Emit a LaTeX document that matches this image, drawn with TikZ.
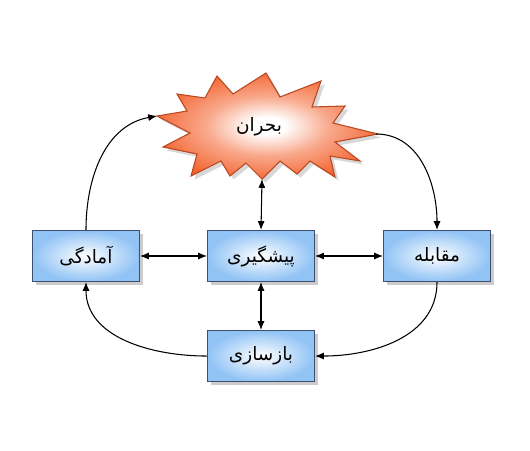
\documentclass[tikz,border=0pt]{standalone}
\usepackage{fontspec}
\newfontfamily\farsifont[Script=Arabic]{DejaVu Sans}
\TeXXeTstate=1
\usetikzlibrary{arrows.meta,shadows,positioning}

\definecolor{boxblue}{RGB}{145,195,245}
\definecolor{boxline}{RGB}{60,80,110}
\definecolor{burstorange}{RGB}{243,98,45}
\definecolor{burstline}{RGB}{185,70,30}

\pgfdeclareradialshading{burstshade}{\pgfpoint{0bp}{0bp}}{%
  color(0bp)=(white); color(4bp)=(white); color(14bp)=(white!45!burstorange);
  color(27bp)=(burstorange); color(50bp)=(burstorange)}

\tikzset{
  phase/.style={draw=boxline, line width=0.6pt, inner color=white, outer color=boxblue,
    minimum width=2.14cm, minimum height=1.02cm,
    drop shadow={shadow xshift=2pt, shadow yshift=-2pt, fill=black!40},
    font=\farsifont\fontsize{10.5}{12}\selectfont},
  link/.style={-{Latex[length=5pt,width=4pt]}, line width=0.6pt},
  dlink/.style={{Latex[length=5pt,width=4pt]}-{Latex[length=5pt,width=4pt]}, line width=0.6pt}
}

\begin{document}
\begin{tikzpicture}[x=0.02cm, y=-0.02cm]
    \useasboundingbox (0,0) rectangle (530,450);

    %---- the crisis burst
    \path[draw=burstline, line width=0.6pt, shading=burstshade,
          drop shadow={shadow xshift=2pt, shadow yshift=-2pt, fill=black!30}]
      (157,116) -- (187,111) -- (177,94) -- (205,98) -- (217,76) -- (233,94)
      -- (266,73) -- (280,97) -- (321,81) -- (312,107) -- (345,106) -- (333,123)
      -- (378,134) -- (335,142) -- (360,161) -- (330,156) -- (335,177) -- (310,161)
      -- (297,174) -- (280,161) -- (262,179) -- (246,163) -- (230,176) -- (221,161)
      -- (191,176) -- (197,154) -- (163,147) -- (190,133) -- cycle;
    \coordinate (burstL) at (157,116);
    \coordinate (burstR) at (376,134);
    \coordinate (burstB) at (262,179);
    \node[font=\farsifont\fontsize{10.5}{12}\selectfont] (crisis) at (259,127) {\beginR بحران\endR};

    %---- the four phases
    \node[phase] (prevent) at (261,256) {\beginR پیشگیری\endR};
    \node[phase, left=1.34cm of prevent] (ready) {\beginR آمادگی\endR};
    \node[phase, right=1.36cm of prevent] (respond) {\beginR مقابله\endR};
    \node[phase, below=0.96cm of prevent] (rebuild) {\beginR بازسازی\endR};

    %---- straight links
    \draw[dlink] (burstB) -- (prevent.north);
    \draw[dlink] (ready) -- (prevent);
    \draw[dlink] (prevent) -- (respond);
    \draw[dlink] (prevent) -- (rebuild);

    %---- the cycle
    \draw[link] (ready.north) to[out=90, in=190] (burstL);
    \draw[link] (burstR) to[out=0, in=90] (respond.north);
    \draw[link] (respond.south) to[out=-90, in=0] (rebuild.east);
    \draw[link] (rebuild.west) to[out=180, in=-90] (ready.south);
\end{tikzpicture}
\end{document}
